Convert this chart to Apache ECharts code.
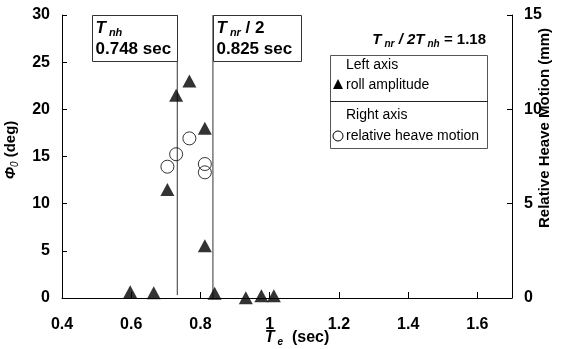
<!DOCTYPE html>
<html>
<head>
<meta charset="utf-8">
<script src="https://cdn.jsdelivr.net/npm/echarts@6/dist/echarts.min.js"></script>
<style>
  html, body {margin: 0; padding: 0; background: #fff;}
  #chart {width: 564px; height: 349px;}
</style>
</head>
<body>
<div id="chart"></div>
<script>
const FONT = '"Liberation Sans", Arial, sans-serif';

// roll amplitude (left axis, deg)
const rollT = [0.597, 0.665, 0.7045, 0.7297, 0.768, 0.8127, 0.8127, 0.841, 0.931, 0.976, 1.012];
const rollAmp = [0.67, 0.56, 11.5, 21.5, 23.0, 18.0, 5.55, 0.5, 0.03, 0.25, 0.25];

// relative heave motion (right axis, mm)
const heaveT = [0.7045, 0.7297, 0.768, 0.8127, 0.8127];
const heaveMm = [6.96, 7.62, 8.46, 7.10, 6.66];

// natural periods (vertical lines, as drawn) and their labels
const tNhLine = 0.733;
const tNrLine = 0.836;
const tNhText = '0.748 sec';
const tNrText = '0.825 sec';
const ratioText = '1.18';

const chart = echarts.init(document.getElementById('chart'));

const tick = {fontFamily: FONT, fontSize: 16, fontWeight: 'bold', color: '#000'};
const axisBase = {
  axisLine: {show: true, onZero: false, lineStyle: {color: '#000', width: 1}},
  axisTick: {show: true, inside: true, length: 5, lineStyle: {color: '#000'}},
  splitLine: {show: false}
};

chart.setOption({
  animation: false,
  grid: {left: 62, right: 52, top: 15, bottom: 51},
  xAxis: {
    type: 'value', min: 0.4, max: 1.7, interval: 0.2,
    ...axisBase,
    axisTick: {show: true, inside: true, length: 6, lineStyle: {color: '#000'}},
    axisLabel: {...tick, margin: 19, showMaxLabel: false}
  },
  yAxis: [{
    type: 'value', min: 0, max: 30, interval: 5,
    ...axisBase,
    axisLabel: {...tick, margin: 12}
  }, {
    type: 'value', min: 0, max: 15, interval: 5, position: 'right',
    ...axisBase,
    axisLabel: {...tick, margin: 12}
  }],
  series: [{
    type: 'line', silent: true, z: 1, symbol: 'none',
    lineStyle: {color: '#333', width: 1},
    data: [[tNhLine, 0.3], [tNhLine, 30]]
  }, {
    type: 'line', silent: true, z: 1, symbol: 'none',
    lineStyle: {color: '#333', width: 1},
    data: [[tNrLine, 0], [tNrLine, 30]]
  }, {
    name: 'roll amplitude', type: 'scatter', z: 3, clip: false,
    symbol: 'triangle', symbolSize: [14, 13],
    itemStyle: {color: '#000'},
    data: rollT.map((t, i) => [t, rollAmp[i]])
  }, {
    name: 'relative heave motion', type: 'scatter', z: 3, clip: false, yAxisIndex: 1,
    symbol: 'circle', symbolSize: 13,
    itemStyle: {color: 'rgba(0,0,0,0)', borderColor: '#000', borderWidth: 1},
    data: heaveT.map((t, i) => [t, heaveMm[i]])
  }]
});

// annotations
const p = (x, y) => chart.convertToPixel({xAxisIndex: 0, yAxisIndex: 0}, [x, y]);
const snap = v => Math.round(v) + 0.5;

const bold = {fontFamily: FONT, fontWeight: 'bold', fill: '#000'};
const rich = {
  T: {fontFamily: FONT, fontSize: 17, fontWeight: 'bold', fontStyle: 'italic', lineHeight: 20},
  s: {fontFamily: FONT, fontSize: 11, fontWeight: 'bold', fontStyle: 'italic', lineHeight: 14, verticalAlign: 'bottom', padding: [0, 0, 0, 3]},
  n: {fontFamily: FONT, fontSize: 17, fontWeight: 'bold', lineHeight: 20}
};

function boxAt(x0, x1) {
  const a = p(x0, 30), b = p(x1, 25.1);
  const l = snap(a[0]), t = snap(a[1]), r = snap(b[0]), btm = snap(b[1]);
  return {l, t, w: r - l, h: btm - t};
}
const b1 = boxAt(0.488, tNhLine);
const b2 = boxAt(tNrLine, 1.09);

const graphic = [
  {type: 'rect', z: 10, shape: {x: b1.l, y: b1.t, width: b1.w, height: b1.h}, style: {fill: '#fff', stroke: '#333', lineWidth: 1}},
  {type: 'rect', z: 10, shape: {x: b2.l, y: b2.t, width: b2.w, height: b2.h}, style: {fill: '#fff', stroke: '#333', lineWidth: 1}},
  {type: 'text', z: 11, x: b1.l + 3, y: 28, style: {text: '{T|T}{s|nh}', rich, verticalAlign: 'middle'}},
  {type: 'text', z: 11, x: b1.l + 3, y: 49, style: {text: tNhText, ...bold, fontSize: 17, verticalAlign: 'middle'}},
  {type: 'text', z: 11, x: b2.l + 3, y: 28, style: {text: '{T|T}{s|nr}{n| / 2}', rich, verticalAlign: 'middle'}},
  {type: 'text', z: 11, x: b2.l + 3, y: 49, style: {text: tNrText, ...bold, fontSize: 17, verticalAlign: 'middle'}},
  {type: 'text', z: 11, x: 486, y: 40, style: {
    text: '{T|T}{s|nr}{T| / 2T}{s|nh}{n| = ' + ratioText + '}', align: 'right', verticalAlign: 'middle',
    rich: {
      T: {fontFamily: FONT, fontSize: 15, fontWeight: 'bold', fontStyle: 'italic', lineHeight: 18},
      s: {fontFamily: FONT, fontSize: 10, fontWeight: 'bold', fontStyle: 'italic', lineHeight: 13, verticalAlign: 'bottom', padding: [0, 0, 0, 3]},
      n: {fontFamily: FONT, fontSize: 15, fontWeight: 'bold', lineHeight: 18}
    }
  }},
  // legend
  {type: 'rect', z: 10, shape: {x: 330.5, y: 55.5, width: 157, height: 93}, style: {fill: '#fff', stroke: '#555', lineWidth: 1}},
  {type: 'line', z: 11, shape: {x1: 330, y1: 101.5, x2: 488, y2: 101.5}, style: {stroke: '#222', lineWidth: 1}},
  {type: 'text', z: 11, x: 346, y: 65, style: {text: 'Left axis', fontFamily: FONT, fontSize: 14, fill: '#000', verticalAlign: 'middle'}},
  {type: 'polygon', z: 11, shape: {points: [[338, 79], [343, 89], [333, 89]]}, style: {fill: '#000'}},
  {type: 'text', z: 11, x: 346, y: 85, style: {text: 'roll amplitude', fontFamily: FONT, fontSize: 14, fill: '#000', verticalAlign: 'middle'}},
  {type: 'text', z: 11, x: 346, y: 115, style: {text: 'Right axis', fontFamily: FONT, fontSize: 14, fill: '#000', verticalAlign: 'middle'}},
  {type: 'circle', z: 11, shape: {cx: 338, cy: 136, r: 5}, style: {fill: 'none', stroke: '#000', lineWidth: 1}},
  {type: 'text', z: 11, x: 346, y: 136, style: {text: 'relative heave motion', fontFamily: FONT, fontSize: 14, fill: '#000', verticalAlign: 'middle'}},
  // axis names
  {type: 'text', z: 11, x: 11, y: 150, rotation: Math.PI / 2, style: {
    text: '{P|Φ}{s|0}{n| (deg)}', align: 'center', verticalAlign: 'middle',
    rich: {
      P: {fontFamily: FONT, fontSize: 15, fontWeight: 'bold', fontStyle: 'italic', lineHeight: 18},
      s: {fontFamily: FONT, fontSize: 10, fontStyle: 'italic', lineHeight: 13, verticalAlign: 'bottom'},
      n: {fontFamily: FONT, fontSize: 15, fontWeight: 'bold', lineHeight: 18}
    }
  }},
  {type: 'text', z: 11, x: 545, y: 128, rotation: Math.PI / 2, style: {
    text: 'Relative Heave Motion (mm)', ...bold, fontSize: 15, align: 'center', verticalAlign: 'middle'
  }},
  {type: 'text', z: 11, x: 297, y: 338, style: {
    text: '{T|T}{s|e}{n|  (sec)}', align: 'center', verticalAlign: 'middle',
    rich: {
      T: {fontFamily: FONT, fontSize: 16, fontWeight: 'bold', fontStyle: 'italic', lineHeight: 19},
      s: {fontFamily: FONT, fontSize: 10, fontWeight: 'bold', fontStyle: 'italic', lineHeight: 13, verticalAlign: 'bottom', padding: [0, 0, 0, 3]},
      n: {fontFamily: FONT, fontSize: 16, fontWeight: 'bold', lineHeight: 19}
    }
  }}
];
chart.setOption({graphic});
</script>
</body>
</html>
